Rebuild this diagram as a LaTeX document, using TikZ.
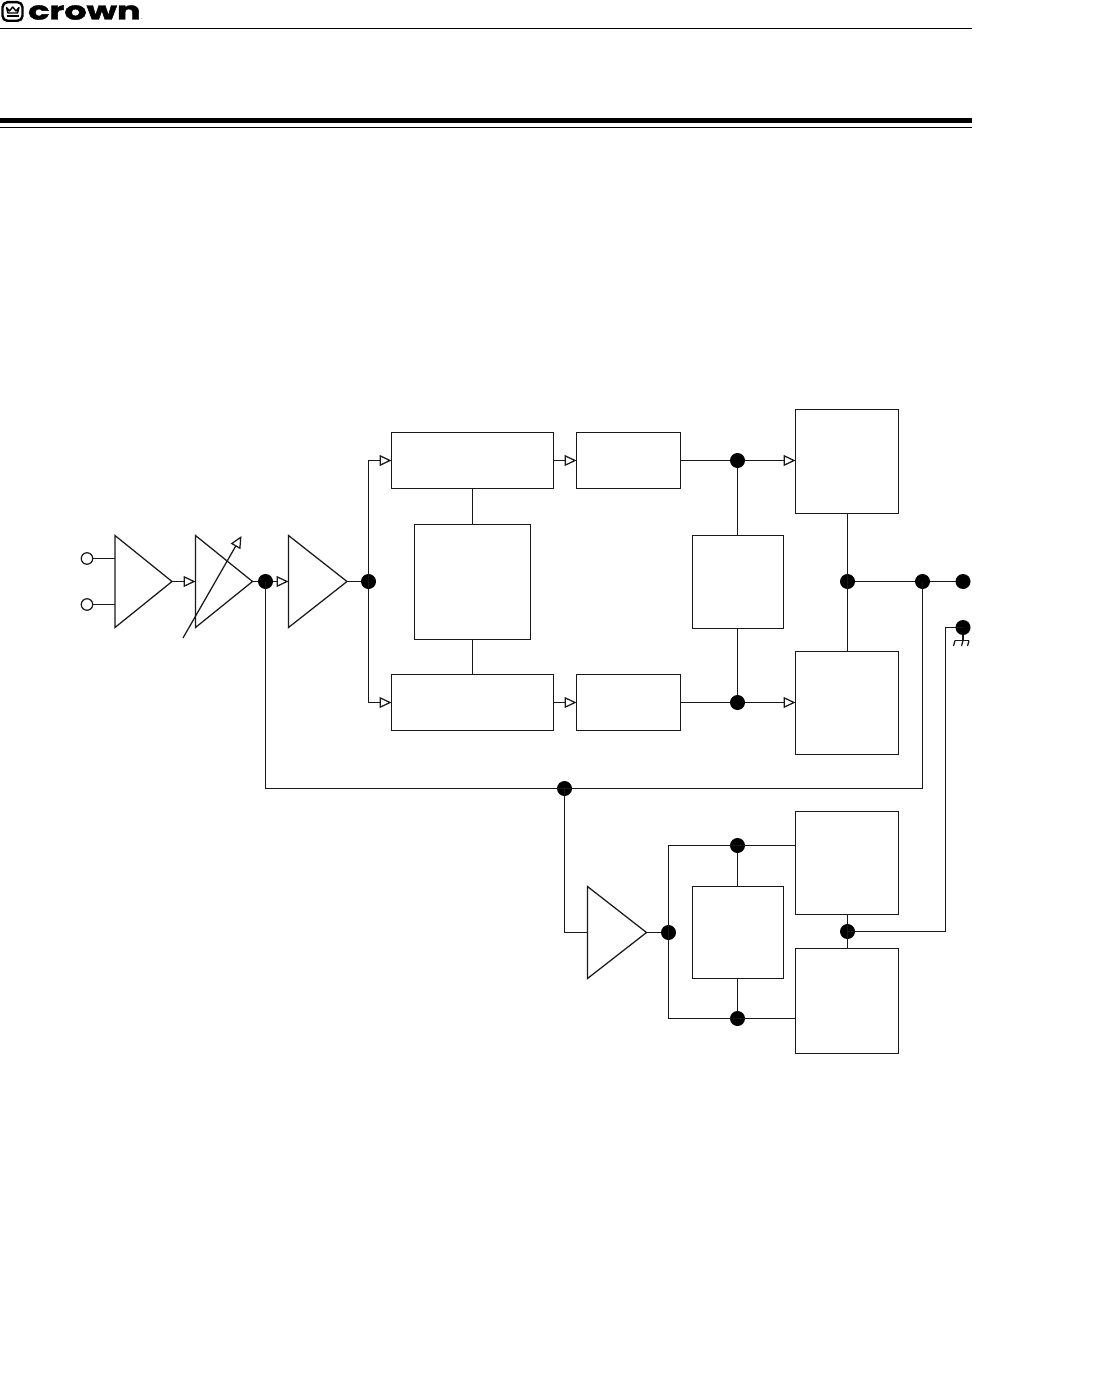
\documentclass[tikz,border=0pt]{standalone}
\usepackage{fontspec}
\newfontfamily\logofont[FakeBold=1.6]{Poppins Bold}
\newfontfamily\logosmall{Liberation Sans}
\usetikzlibrary{arrows.meta}
\tikzset{
  wire/.style={line width=1.25pt,draw=black!90!white},
  blockbox/.style={wire,rectangle,inner sep=0pt,outer sep=0pt},
  ampl/.style={wire,line join=miter},
  jointdot/.style={circle,fill=black,draw=none,minimum size=15pt,inner sep=0pt,outer sep=0pt},
  termopen/.style={circle,wire,fill=white,minimum size=11.5pt,inner sep=0pt,outer sep=0pt},
  tipped/.style={wire,-{Triangle[open,length=12pt,width=11pt,line width=1.25pt]}},
  rule/.style={draw=black,line width=1.2pt}
}
\newcommand{\blockat}[5]{\node[blockbox,minimum width=#4 pt - #2 pt,minimum height=#5 pt - #3 pt] (#1) at ({(#2+#4)/2},{(#3+#5)/2}) {};}
\begin{document}
\begin{tikzpicture}[x=1pt,y=-1pt]
\useasboundingbox (0,0) rectangle (1116,1396);
% header
\coordinate (hlA) at (0,28.5); \coordinate (hlB) at (972,28.5);
\draw[rule] (hlA) -- (hlB);
\coordinate (hmA) at (0,120.7); \coordinate (hmB) at (972,120.7);
\draw[draw=black,line width=5.3pt] (hmA) -- (hmB);
\coordinate (hnA) at (0,127.3); \coordinate (hnB) at (972,127.3);
\draw[rule] (hnA) -- (hnB);
% logo
\draw[black,line width=2.4pt,rounded corners=5pt] (2.5,2.2) rectangle (22.5,20.8);
\draw[black,line width=1.4pt,line join=round] (6.5,7.5) -- (9.5,11) -- (12.7,7) -- (16,11) -- (19,7.5) -- (17.5,13) -- (8,13) -- cycle;
\draw[black,line width=1.6pt] (6.5,16) -- (19,16);
\node[anchor=base west,inner sep=0pt,font=\logofont\fontsize{25}{25}\selectfont] (logo) at (28,19.5) {\scalebox{1.4}[1]{crown}};
\node[anchor=base west,inner sep=0pt,font=\logosmall\fontsize{5}{5}\selectfont] (logodot) at (140.5,19.5) {.};
% amplifiers
\draw[ampl] (115,535.5) -- (115,627.5) -- (172,581.5) -- cycle;
\draw[ampl] (195.5,535.5) -- (195.5,627.5) -- (252.5,581.5) -- cycle;
\draw[ampl] (288.5,535.5) -- (288.5,627.5) -- (347,581.5) -- cycle;
\draw[ampl] (587.5,886.5) -- (587.5,978.5) -- (646.5,932.5) -- cycle;
\coordinate (a1i1) at (115,558.5); \coordinate (a1i2) at (115,604.5);
\coordinate (a1o) at (172,581.5); \coordinate (a2i) at (195.5,581.5);
\coordinate (a2o) at (252.5,581.5); \coordinate (a3i) at (288.5,581.5);
\coordinate (a3o) at (347,581.5); \coordinate (a4i) at (587.5,932.5);
\coordinate (a4o) at (646.5,932.5);
% blocks
\blockat{drvT}{391.5}{432.5}{553.5}{488.5}
\blockat{preT}{576.5}{432.5}{680.5}{488.5}
\blockat{outT}{795.5}{409.5}{898.5}{513.5}
\blockat{ctrl}{414.5}{524.5}{530.5}{639.5}
\blockat{drvB}{391.5}{674.5}{553.5}{730.5}
\blockat{preB}{576.5}{674.5}{680.5}{730.5}
\blockat{mid}{692.5}{535.5}{783.5}{628.5}
\blockat{outB}{795.5}{651.5}{898.5}{754.5}
\blockat{lowT}{795.5}{811.5}{898.5}{914.5}
\blockat{lowB}{795.5}{948.5}{898.5}{1053.5}
\blockat{lowM}{692.5}{886.5}{783.5}{978.5}
% terminals and dots
\node[termopen] (in1) at (87,558.5) {};
\node[termopen] (in2) at (87,604.5) {};
\node[jointdot] (d1) at (265.5,581.5) {};
\node[jointdot] (d2) at (368.5,581.5) {};
\node[jointdot] (d3) at (737.5,460.5) {};
\node[jointdot] (d4) at (737.5,702.5) {};
\node[jointdot] (d5) at (847.5,581.5) {};
\node[jointdot] (d6) at (922.5,581.5) {};
\node[jointdot] (d7) at (963,581.5) {};
\node[jointdot] (d8) at (963,627.5) {};
\node[jointdot] (d9) at (564.5,788.5) {};
\node[jointdot] (d10) at (737.5,845.5) {};
\node[jointdot] (d11) at (737.5,1018.5) {};
\node[jointdot] (d12) at (668.5,932.5) {};
\node[jointdot] (d13) at (847.5,931.5) {};
% input section
\draw[wire] (in1) -- (a1i1);
\draw[wire] (in2) -- (a1i2);
\draw[tipped] (a1o) -- (a2i);
\draw[wire] (a2o) -- (d1);
\draw[tipped] (d1) -- (a3i);
\draw[wire] (a3o) -- (d2);
\coordinate (gainA) at (183,638); \coordinate (gainB) at (241.5,536);
\draw[tipped] (gainA) -- (gainB);
% main branches
\draw[tipped] (d2.center) |- (drvT.west);
\draw[tipped] (d2.center) |- (drvB.west);
\draw[tipped] (drvT) -- (preT);
\draw[tipped] (drvB) -- (preB);
\draw[wire] (preT) -- (d3);
\draw[wire] (preB) -- (d4);
\draw[tipped] (d3) -- (outT.west |- d3);
\draw[tipped] (d4) -- (outB.west |- d4);
\draw[wire] (d3) -- (mid.north -| d3);
\draw[wire] (d4) -- (mid.south -| d4);
\draw[wire] (ctrl.north) -- (ctrl.north |- drvT.south);
\draw[wire] (ctrl.south) -- (ctrl.south |- drvB.north);
\draw[wire] (outT.south -| d5) -- (outB.north -| d5);
\draw[wire] (d5) -- (d6);
\draw[wire] (d6) -- (d7);
% feedback
\draw[wire] (d1.center) |- (d9.center) -| (d6.center);
\draw[wire] (d9.center) |- (a4i);
\draw[wire] (a4o) -- (d12);
% lower section
\draw[wire] (d12.center) |- (lowT.west |- d10);
\draw[wire] (d12.center) |- (lowB.west |- d11);
\draw[wire] (d10) -- (lowM.north -| d10);
\draw[wire] (d11) -- (lowM.south -| d11);
\draw[wire] (lowT.south -| d13) -- (lowB.north -| d13);
\coordinate (rail) at (945.5,931.5);
\draw[wire] (d13.center) -- (rail) |- (d8.center);
% ground
\coordinate (gnd) at (963,640.5);
\coordinate (gndL) at (955,640.5); \coordinate (gndR) at (969,640.5);
\draw[wire] (d8) -- (gnd);
\draw[wire] (gndL) -- (gndR);
\draw[wire] (gndL) -- ++(-1.5,5.5);
\draw[wire] (gnd) -- ++(-1.5,5.5);
\draw[wire] (gndR) -- ++(-1.5,5.5);
\end{tikzpicture}
\end{document}
